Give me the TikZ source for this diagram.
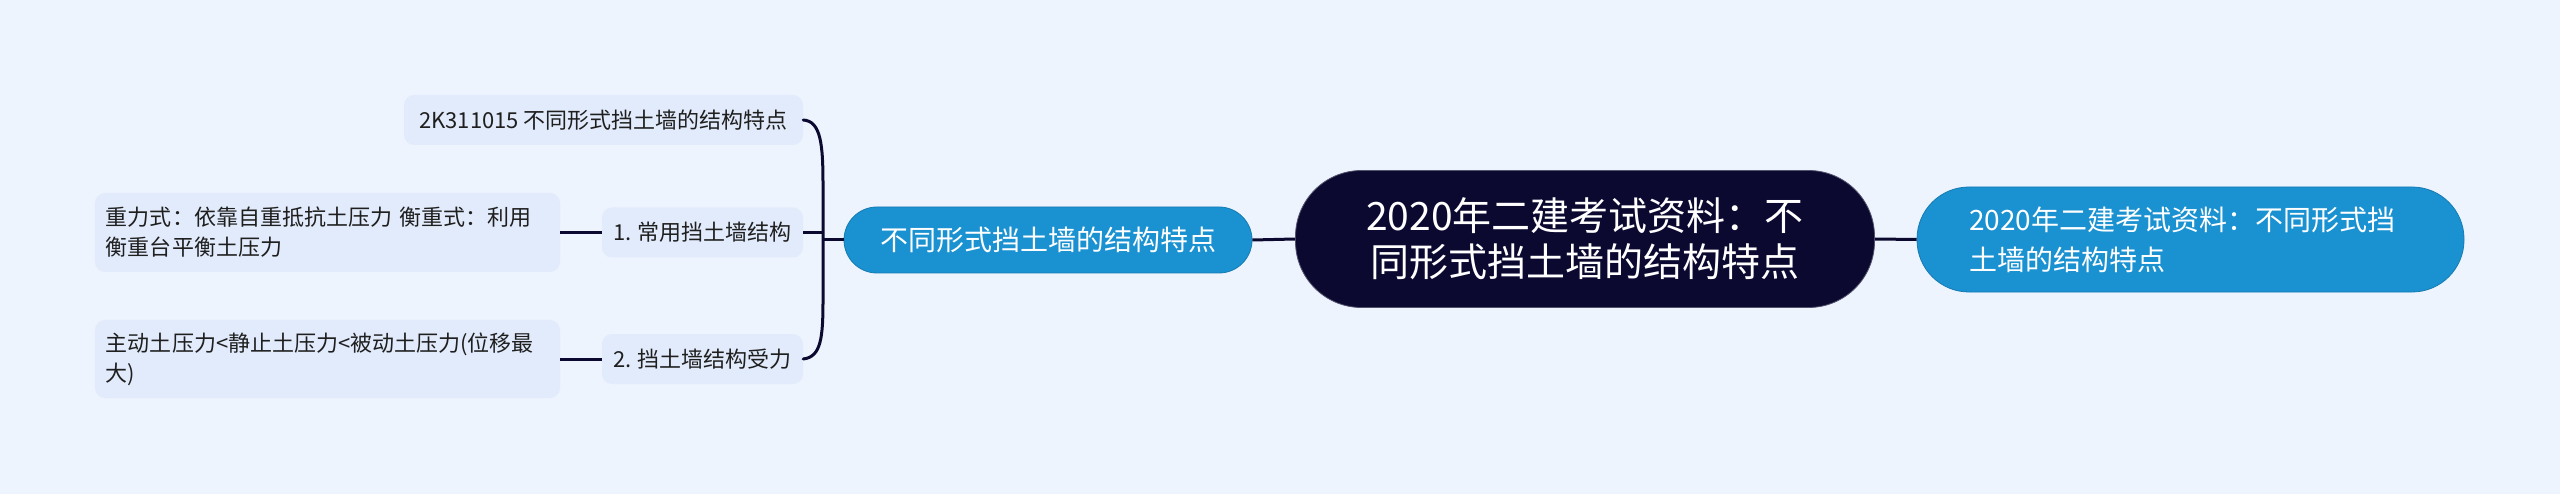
\documentclass[tikz,border=0pt]{standalone}
\usepackage{fontspec}
\setmainfont{Noto Sans CJK SC}
\definecolor{bgc}{HTML}{EEF4FE}
\definecolor{leafc}{HTML}{E2EBFB}
\definecolor{bluec}{HTML}{1A91D1}
\definecolor{navyc}{HTML}{0B0930}
\definecolor{txtc}{HTML}{1F1F1F}
\begin{document}
\begin{tikzpicture}[x=1bp,y=-1bp,
  leaf/.style={fill=leafc, rounded corners=10bp, inner sep=0pt, text=txtc,
    font=\fontsize{22bp}{30bp}\selectfont},
  bluebox/.style={fill=bluec, draw=bluec!85!black, line width=0.8bp, inner sep=0pt, text=white},
  conn/.style={draw=navyc, line width=3bp}
]
\useasboundingbox (0,0) rectangle (2560,494);
\fill[bgc] (0,0) rectangle (2560,494);

% central
\node[fill=navyc, draw=navyc!70!white, line width=0.8bp, rounded corners=66bp, inner sep=0pt,
  minimum width=579bp, minimum height=137bp, text=white, align=center,
  font=\fontsize{39bp}{46bp}\selectfont] (center) at (1585,239)
  {2020年二建考试资料：不\\同形式挡土墙的结构特点};

% right
\node[bluebox, rounded corners=52bp, minimum width=547bp, minimum height=105bp,
  text width=443bp, align=left, font=\fontsize{28bp}{40bp}\selectfont] (right) at (2190.5,239.5)
  {2020年二建考试资料：不同形式挡\\土墙的结构特点};

% left main
\node[bluebox, rounded corners=33bp, minimum width=408bp, minimum height=66bp,
  font=\fontsize{28bp}{34bp}\selectfont] (lmain) at (1048,240) {不同形式挡土墙的结构特点};

% second level
\node[leaf, minimum width=399bp, minimum height=50bp] (n0) at (603.5,120) {2K311015 不同形式挡土墙的结构特点};
\node[leaf, minimum width=201bp, minimum height=50bp] (n1) at (702.5,232.5) {1. 常用挡土墙结构};
\node[leaf, minimum width=201bp, minimum height=50bp] (n2) at (702.5,359) {2. 挡土墙结构受力};

% leaves
\node[leaf, minimum width=465bp, minimum height=79bp, text width=443bp, align=left] (l1) at (327.5,232.5)
  {重力式：依靠自重抵抗土压力 衡重式：利用\\衡重台平衡土压力};
\node[leaf, minimum width=465bp, minimum height=78bp, text width=443bp, align=left] (l2) at (327.5,359)
  {主动土压力<静止土压力<被动土压力(位移最\\大)};

% connectors
\coordinate (bj) at (823,240);
\draw[conn] (center.east) -- (right.west);
\draw[conn] (lmain.east) -- (center.west);
\draw[conn] (bj) -- (lmain.west);
\draw[conn, line cap=round] (n0.east) .. controls (821,121) and (823,145) .. (823,185)
  -- (823,300) .. controls (823,338) and (821,357) .. (n2.east);
\draw[conn] (n1.east) -- (n1.east -| bj);
\draw[conn] (l1.east) -- (n1.west);
\draw[conn] (l2.east) -- (n2.west);
\end{tikzpicture}
\end{document}
